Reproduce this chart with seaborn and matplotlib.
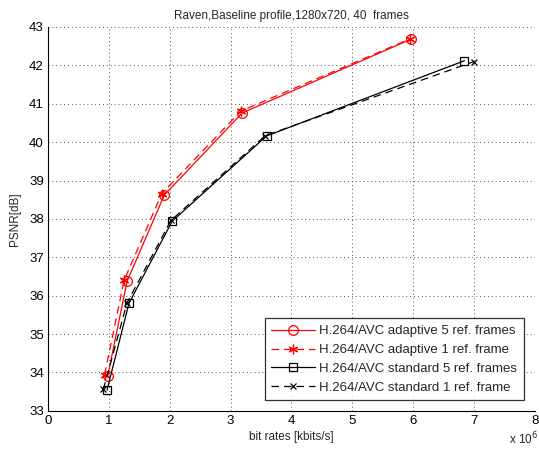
import numpy as np
import pandas as pd
import matplotlib
matplotlib.use('Agg')
import matplotlib.pyplot as plt
import seaborn as sns

sns.set_style('white')
plt.rcParams['font.family'] = ['Liberation Sans', 'DejaVu Sans']

# bit rates in units of 1e6, PSNR in dB
adapt5_rate = [0.98, 1.30, 1.91, 3.19, 5.96]
adapt5_psnr = [33.90, 36.38, 38.62, 40.76, 42.68]
adapt1_rate = [0.93, 1.25, 1.87, 3.17, 5.95]
adapt1_psnr = [33.94, 36.40, 38.66, 40.81, 42.69]
std5_rate = [0.97, 1.33, 2.04, 3.59, 6.84]
std5_psnr = [33.54, 35.80, 37.94, 40.16, 42.12]
std1_rate = [0.91, 1.30, 2.02, 3.57, 7.00]
std1_psnr = [33.56, 35.82, 37.96, 40.17, 42.10]

labels = ['H.264/AVC adaptive 5 ref. frames',
          'H.264/AVC adaptive 1 ref. frame',
          'H.264/AVC standard 5 ref. frames',
          'H.264/AVC standard 1 ref. frame']

df = pd.concat([
    pd.DataFrame({'rate': adapt5_rate, 'psnr': adapt5_psnr, 'series': labels[0]}),
    pd.DataFrame({'rate': adapt1_rate, 'psnr': adapt1_psnr, 'series': labels[1]}),
    pd.DataFrame({'rate': std5_rate, 'psnr': std5_psnr, 'series': labels[2]}),
    pd.DataFrame({'rate': std1_rate, 'psnr': std1_psnr, 'series': labels[3]}),
])

styles = {
    labels[0]: dict(color='#ff0000', ls='-', marker='o', ms=7),
    labels[1]: dict(color='#ff0000', ls=(0, (6, 4)), marker=(6, 2, 0), ms=7),
    labels[2]: dict(color='black', ls='-', marker='s', ms=6),
    labels[3]: dict(color='black', ls=(0, (6, 4)), marker='x', ms=5),
}

fig = plt.figure(figsize=(5.39, 4.57), dpi=100)
ax = fig.add_axes([0.089, 0.101, 0.9036, 0.840])

for name in labels:
    st = styles[name]
    sub = df[df['series'] == name]
    sns.lineplot(data=sub, x='rate', y='psnr', ax=ax, sort=False,
                 color=st['color'], linestyle=st['ls'], marker=st['marker'],
                 markersize=st['ms'], markerfacecolor='none',
                 markeredgecolor=st['color'], markeredgewidth=0.9,
                 linewidth=0.9, label=name)

ax.set_xlim(0, 8)
ax.set_ylim(33, 43)
ax.set_xticks(range(0, 9))
ax.set_yticks(range(33, 44))
ax.grid(True, color='#555555', linestyle=(0, (1, 3)), linewidth=0.7)
ax.tick_params(direction='in', length=4, labelsize=9.5, colors='black', pad=3)
for side in ['top', 'right']:
    ax.spines[side].set_visible(False)
for side in ['left', 'bottom']:
    ax.spines[side].set_color('black')
    ax.spines[side].set_linewidth(0.8)

ax.set_xlabel('bit rates [kbits/s]', fontsize=8.5, labelpad=3)
ax.set_ylabel('PSNR[dB]', fontsize=8.5, labelpad=6)
ax.set_title('Raven,Baseline profile,1280x720, 40  frames', fontsize=8.5, pad=6)
fig.text(0.945, 0.022, r'x 10$^6$', fontsize=8.5, ha='left', va='bottom')

leg = ax.legend(loc='lower right', bbox_to_anchor=(0.99, 0.01), fontsize=9.5,
                frameon=True, fancybox=False, edgecolor='black',
                handlelength=3.3, labelspacing=0.5, borderpad=0.5,
                handletextpad=0.3)
leg.get_frame().set_linewidth(0.9)

fig.savefig('out.png', dpi=100)
